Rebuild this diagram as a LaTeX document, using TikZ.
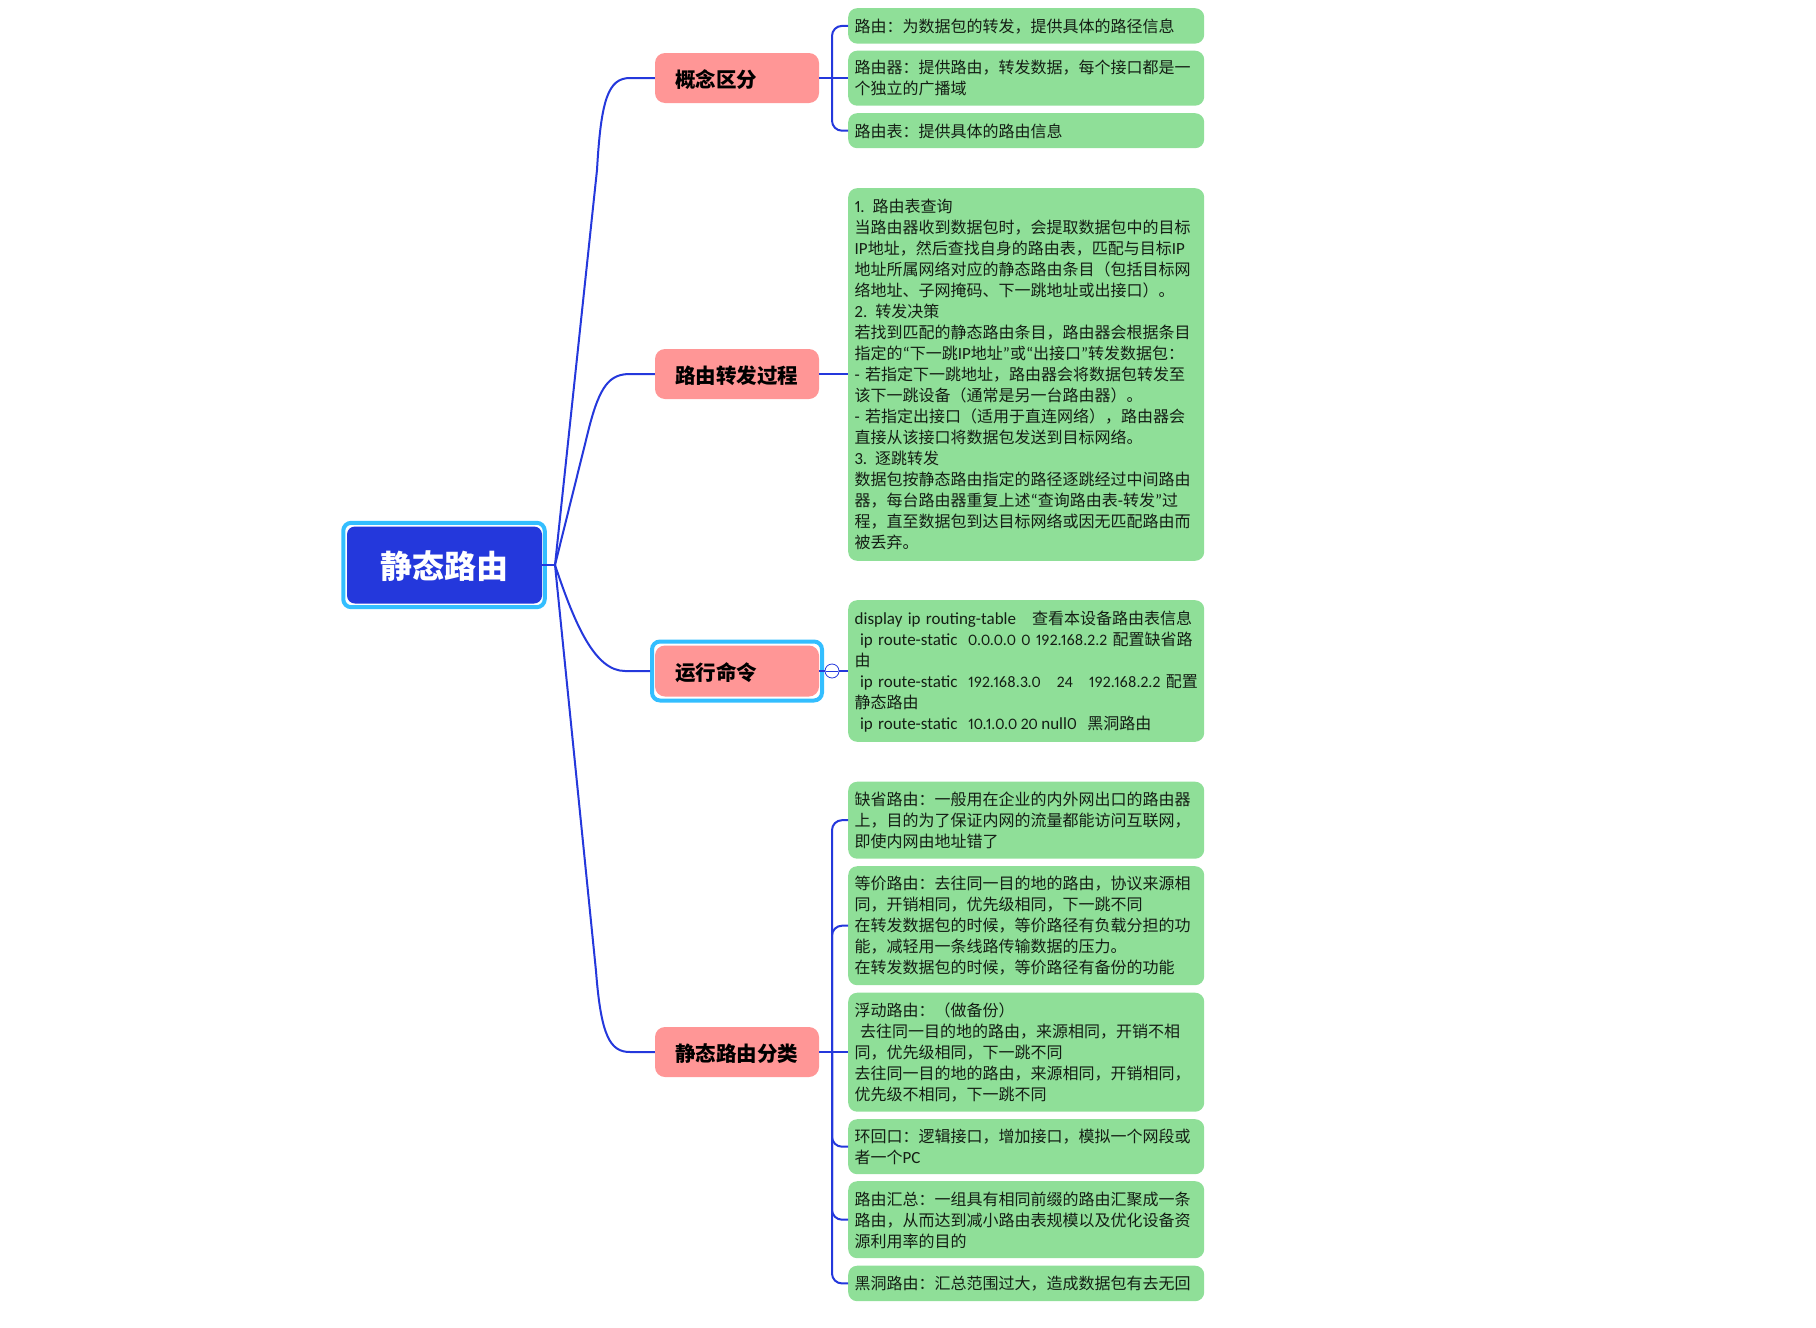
\documentclass[tikz,border=0pt]{standalone}
\usepackage{fontspec}
\setmainfont{Noto Sans CJK SC}
\newfontfamily\latinfam[Numbers=Proportional]{Carlito}
\newcommand{\en}[1]{{\latinfam\fontsize{17}{21}\selectfont #1}}
\newcommand{\ennum}[1]{{\latinfam\fontsize{16}{21}\selectfont #1}}
\definecolor{rootblue}{RGB}{36,56,220}
\definecolor{ringcyan}{RGB}{51,190,255}
\definecolor{branchpink}{RGB}{255,150,150}
\definecolor{leafgreen}{RGB}{143,223,152}
\definecolor{inkdark}{RGB}{20,30,20}
\tikzset{
	link/.style={draw=rootblue,line width=2pt},
	spine/.style={link,rounded corners=10pt},
	ring/.style={draw=ringcyan,line width=4pt,fill=white,rounded corners=8pt},
	rootbox/.style={fill=rootblue,rounded corners=8pt,text=white,font=\fontsize{32}{36}\selectfont\bfseries,minimum width=195pt,minimum height=77pt,text height=33pt,text depth=7pt},
	branch/.style={fill=branchpink,rounded corners=10pt,text=black,font=\fontsize{20.5}{25}\selectfont\bfseries,text width=124pt,inner xsep=20pt,inner ysep=0pt,align=left,text height=23pt,text depth=5pt},
	leaf/.style={fill=leafgreen,rounded corners=9pt,text=inkdark,font=\fontsize{16}{21}\selectfont,anchor=north west,text width=343pt,inner xsep=6.5pt,inner ysep=0pt,align=left,execute at begin node={\rule{0pt}{14pt}}},
	fold/.style={circle,draw=rootblue,line width=.8pt,fill=white,minimum size=14pt,inner sep=0pt},
}
\begin{document}
\begin{tikzpicture}[x=1pt,y=-1pt]
	\useasboundingbox (0,0) rectangle (1816,1328);
	\node (rootring) at (444,565) [ring,minimum width=201.5pt,minimum height=84.4pt] {};
	\node (root) at (444.5,565) [rootbox] {静态路由};
	\coordinate (hub) at (555,565);

	\node (gainian) at (737,78) [branch,minimum height=50pt] {概念区分};
	\node (guocheng) at (737,374) [branch,minimum height=50pt] {路由转发过程};
	\node (minglingring) at (737,671) [ring,minimum width=170pt,minimum height=59pt] {};
	\node (mingling) at (737,671) [branch,minimum height=51pt] {运行命令};
	\node (fenlei) at (737,1052) [branch,minimum height=50pt] {静态路由分类};

	\node (luyou) at (848,8) [leaf,minimum height=35.4pt] {路由：为数据包的转发，提供具体的路径信息};
	\node (luyouqi) at (848,50.5) [leaf,minimum height=55pt] {路由器：提供路由，转发数据，每个接口都是一\\个独立的广播域};
	\node (luyoubiao) at (848,113) [leaf,minimum height=35pt] {路由表：提供具体的路由信息};
	\node (zhuanfa) at (848,188) [leaf,minimum height=372.6pt] {\en{1. }路由表查询\\
		当路由器收到数据包时，会提取数据包中的目标\\
		\en{IP}地址，然后查找自身的路由表，匹配与目标\en{IP}\\
		地址所属网络对应的静态路由条目（包括目标网\\
		络地址、子网掩码、下一跳地址或出接口）。\\
		\en{2. }转发决策\\
		若找到匹配的静态路由条目，路由器会根据条目\\
		指定的\en{“}下一跳\en{IP}地址\en{”}或\en{“}出接口\en{”}转发数据包：\\
		\en{- }若指定下一跳地址，路由器会将数据包转发至\\
		该下一跳设备（通常是另一台路由器）。\\
		\en{- }若指定出接口（适用于直连网络），路由器会\\
		直接从该接口将数据包发送到目标网络。\\
		\en{3. }逐跳转发\\
		数据包按静态路由指定的路径逐跳经过中间路由\\
		器，每台路由器重复上述\en{“}查询路由表\en{-}转发\en{”}过\\
		程，直至数据包到达目标网络或因无匹配路由而\\
		被丢弃。};
	\node (mingan) at (848,600) [leaf,minimum height=141.6pt] {\en{display ip routing-table\ \ \ }查看本设备路由表信息\\
		\mbox{\en{\ ip route-static\ \ }\ennum{0.0.0.0 0 192.168.2.2\ }配置缺省路}\\
		由\\
		\mbox{\en{\ ip route-static\ \ }\ennum{192.168.3.0\ \ \ 24\ \ \ 192.168.2.2 }配置}\\
		静态路由\\
		\mbox{\en{\ ip route-static\ \ }\ennum{10.1.0.0\hspace{3.5pt}20\hspace{3.5pt}}\en{null0\ \ }黑洞路由}};
	\node (quesheng) at (848,781.5) [leaf,minimum height=77pt] {缺省路由：一般用在企业的内外网出口的路由器\\上，目的为了保证内网的流量都能访问互联网，\\即使内网由地址错了};
	\node (dengjia) at (848,866) [leaf,minimum height=119pt] {等价路由：去往同一目的地的路由，协议来源相\\同，开销相同，优先级相同，下一跳不同\\在转发数据包的时候，等价路径有负载分担的功\\能，减轻用一条线路传输数据的压力。\\在转发数据包的时候，等价路径有备份的功能};
	\node (fudong) at (848,992.5) [leaf,minimum height=119pt] {浮动路由：（做备份）\\\ 去往同一目的地的路由，来源相同，开销不相\\同，优先级相同，下一跳不同\\去往同一目的地的路由，来源相同，开销相同，\\优先级不相同，下一跳不同};
	\node (huanhui) at (848,1119) [leaf,minimum height=55pt] {环回口：逻辑接口，增加接口，模拟一个网段或\\者一个\en{PC}};
	\node (huizong) at (848,1181) [leaf,minimum height=77pt] {路由汇总：一组具有相同前缀的路由汇聚成一条\\路由，从而达到减小路由表规模以及优化设备资\\源利用率的目的};
	\node (heidong) at (848,1265.5) [leaf,minimum height=35.5pt] {黑洞路由：汇总范围过大，造成数据包有去无回};

	\draw [link] (root) -- (hub);
	\draw [link] (hub) -- (597,170) .. controls (601,100) and (608,78) .. (630,78) -- (gainian);
	\draw [link] (hub) -- (589,428) .. controls (600,385) and (610,374) .. (630,374) -- (guocheng);
	\draw [link] (hub) .. controls (575,625) and (595,671) .. (625,671) -- (minglingring);
	\draw [link] (hub) -- (596,971) .. controls (601,1036) and (610,1052) .. (630,1052) -- (fenlei);

	\coordinate (gainianspine) at (832,78);
	\coordinate (fenleispine) at (832,1052);
	\draw [link] (gainian) -- (luyouqi.west |- gainian);
	\draw [spine] (luyou.west) -| (gainianspine) |- (luyoubiao.west);
	\draw [link] (guocheng) -- (zhuanfa.west |- guocheng);
	\draw [link] (mingling) -- (mingan.west |- mingling);
	\draw [link] (fenlei) -- (fudong.west |- fenlei);
	\draw [spine] (quesheng.west) -| (fenleispine) |- (heidong.west);
	\draw [spine] (dengjia.west) -| (fenleispine);
	\draw [spine] (huanhui.west) -| (fenleispine);
	\draw [spine] (huizong.west) -| (fenleispine);

	\node (zhedie) at (832,671) [fold] {};
	\draw [draw=rootblue,line width=.8pt] ([xshift=1pt]zhedie.west) -- ([xshift=-1pt]zhedie.east);
\end{tikzpicture}
\end{document}
